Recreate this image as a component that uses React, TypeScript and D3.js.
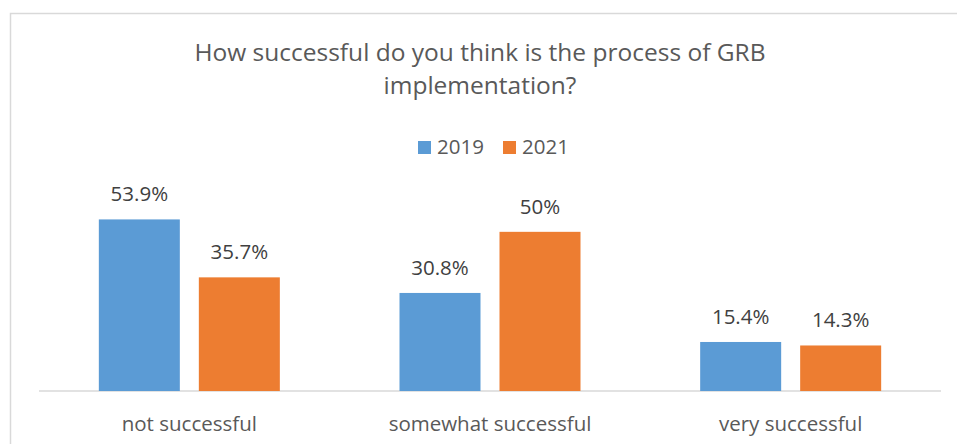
import React from "react";
import * as d3 from "d3";

const titleLines = ["How successful do you think is the process of GRB", "implementation?"];
const categories = ["not successful", "somewhat successful", "very successful"];
const seriesNames = ["2019", "2021"];
const values2019 = [53.9, 30.8, 15.4];
const values2021 = [35.7, 50, 14.3];
const labels2019 = ["53.9%", "30.8%", "15.4%"];
const labels2021 = ["35.7%", "50%", "14.3%"];
const colors = ["#5B9BD5", "#ED7D31"];

const W = 957;
const H = 444;
const FONT = "'Open Sans', 'Liberation Sans', sans-serif";

export default function App() {
  const x0 = d3.scaleBand<string>().domain(categories).range([39, 941]).paddingInner(0.398).paddingOuter(0.199);
  const x1 = d3.scaleBand<string>().domain(seriesNames).range([0, x0.bandwidth()]).paddingInner(0.19).paddingOuter(0);
  const y = d3.scaleLinear().domain([0, 60]).range([391, 200]);
  const series = [
    { name: seriesNames[0], values: values2019, labels: labels2019, color: colors[0] },
    { name: seriesNames[1], values: values2021, labels: labels2021, color: colors[1] },
  ];
  return (
    <svg width={W} height={H} style={{ position: "absolute", left: 0, top: 0, display: "block", background: "#fff" }} fontFamily={FONT}>
      <rect x={10.5} y={13.5} width={1000} height={1000} fill="#fff" stroke="#d9d9d9" strokeWidth={1.5} />
      {titleLines.map((t, i) => (
        <text key={i} x={480} y={61 + i * 33} textAnchor="middle" fontSize={24.5} fill="#595959">{t}</text>
      ))}
      {series.map((s, i) => {
        const lx = [418, 503][i];
        return (
          <g key={s.name}>
            <rect x={lx} y={141} width={13} height={13} fill={s.color} />
            <text x={lx + 19} y={154} fontSize={20.5} fill="#595959">{s.name}</text>
          </g>
        );
      })}
      <line x1={39} x2={941} y1={391} y2={391} stroke="#d9d9d9" strokeWidth={1.5} />
      {categories.map((c, ci) => (
        <g key={c}>
          {series.map((s) => {
            const bx = (x0(c) ?? 0) + (x1(s.name) ?? 0);
            const v = s.values[ci];
            return (
              <g key={s.name}>
                <rect x={bx} y={y(v)} width={x1.bandwidth()} height={y(0) - y(v)} fill={s.color} />
                <text x={bx + x1.bandwidth() / 2} y={y(v) - 18} textAnchor="middle" fontSize={20.5} fill="#404040">{s.labels[ci]}</text>
              </g>
            );
          })}
          <text x={(x0(c) ?? 0) + x0.bandwidth() / 2} y={431} textAnchor="middle" fontSize={20.5} fill="#595959">{c}</text>
        </g>
      ))}
    </svg>
  );
}
